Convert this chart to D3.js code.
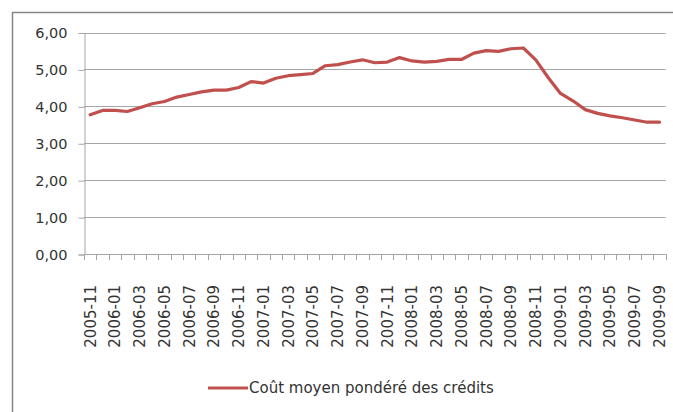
<!DOCTYPE html>
<html>
<head>
<meta charset="utf-8">
<script src="https://cdn.jsdelivr.net/npm/d3@7"></script>
<style>
  html, body { margin: 0; padding: 0; background: #fff; }
  svg { display: block; }
  text { font-family: "DejaVu Sans", Verdana, sans-serif; fill: #333; }
</style>
</head>
<body>
<svg id="chart" width="673" height="412"></svg>
<script>
const months = [
  "2005-11","2005-12",
  "2006-01","2006-02","2006-03","2006-04","2006-05","2006-06","2006-07","2006-08","2006-09","2006-10","2006-11","2006-12",
  "2007-01","2007-02","2007-03","2007-04","2007-05","2007-06","2007-07","2007-08","2007-09","2007-10","2007-11","2007-12",
  "2008-01","2008-02","2008-03","2008-04","2008-05","2008-06","2008-07","2008-08","2008-09","2008-10","2008-11","2008-12",
  "2009-01","2009-02","2009-03","2009-04","2009-05","2009-06","2009-07","2009-08","2009-09"
];
const coutMoyen = [
  3.77, 3.89,
  3.89, 3.86, 3.96, 4.07, 4.13, 4.25, 4.32, 4.39, 4.44, 4.44, 4.51, 4.67,
  4.63, 4.76, 4.83, 4.86, 4.89, 5.10, 5.13, 5.20, 5.26, 5.18, 5.20, 5.32,
  5.23, 5.20, 5.22, 5.27, 5.27, 5.44, 5.51, 5.49, 5.56, 5.58, 5.26, 4.78,
  4.35, 4.15, 3.91, 3.81, 3.74, 3.69, 3.63, 3.57, 3.57
];
const yTicks = [0, 1, 2, 3, 4, 5, 6];
const seriesName = "Coût moyen pondéré des crédits";
const lineColor = "#C0504D";

const svg = d3.select("#chart");
const mLeft = 84, mRight = 665.7, mTop = 32.5, mBottom = 254;

// outer frame (cropped on right/bottom)
svg.append("rect")
  .attr("x", 12.5).attr("y", 12.5)
  .attr("width", 720).attr("height", 430)
  .attr("fill", "none").attr("stroke", "#868686").attr("stroke-width", 1.5);

const x = d3.scaleBand().domain(months).range([mLeft, mRight]).paddingInner(0).paddingOuter(0);
const y = d3.scaleLinear().domain([0, 6]).range([mBottom, mTop]);

// gridlines
svg.append("g")
  .selectAll("line")
  .data(yTicks.filter(d => d > 0))
  .join("line")
  .attr("x1", mLeft).attr("x2", mRight)
  .attr("y1", d => Math.round(y(d)) + 0.5).attr("y2", d => Math.round(y(d)) + 0.5)
  .attr("stroke", "#A6A6A6").attr("stroke-width", 1);

// y axis
const yAxis = d3.axisLeft(y)
  .tickValues(yTicks)
  .tickSize(6)
  .tickPadding(11)
  .tickFormat(d => d3.format(".2f")(d).replace(".", ","));
const gy = svg.append("g").attr("transform", `translate(${mLeft + 0.5},0.5)`).call(yAxis);
gy.select(".domain").attr("stroke", "#A6A6A6");
gy.selectAll(".tick line").attr("stroke", "#A6A6A6");
gy.selectAll(".tick text").attr("font-size", 14.5).attr("fill", "#333")
  .attr("font-family", '"DejaVu Sans", Verdana, sans-serif');

// x axis line + ticks at category boundaries
const gx = svg.append("g");
gx.append("line")
  .attr("x1", mLeft).attr("x2", mRight)
  .attr("y1", mBottom + 0.5).attr("y2", mBottom + 0.5)
  .attr("stroke", "#A6A6A6");
const boundaries = months.map(m => x(m)).concat([mRight]);
gx.selectAll("line.tk")
  .data(boundaries)
  .join("line")
  .attr("class", "tk")
  .attr("x1", d => Math.round(d) + 0.5).attr("x2", d => Math.round(d) + 0.5)
  .attr("y1", mBottom).attr("y2", mBottom + 6)
  .attr("stroke", "#A6A6A6");

// x labels every 2 months, rotated
const labelMonths = months.filter((m, i) => i % 2 === 0);
gx.selectAll("text")
  .data(labelMonths)
  .join("text")
  .attr("transform", d => `translate(${x(d) + x.bandwidth() / 2},285) rotate(-90)`)
  .attr("text-anchor", "end")
  .attr("dy", "0.36em")
  .attr("font-size", 15)
  .text(d => d);

// line
const line = d3.line()
  .x((d, i) => x(months[i]) + x.bandwidth() / 2)
  .y(d => y(d));
svg.append("path")
  .datum(coutMoyen)
  .attr("d", line)
  .attr("fill", "none")
  .attr("stroke", lineColor)
  .attr("stroke-width", 3.2)
  .attr("stroke-linejoin", "round")
  .attr("stroke-linecap", "round");

// legend
const lg = svg.append("g").attr("transform", "translate(208,388)");
lg.append("line")
  .attr("x1", 0).attr("x2", 40).attr("y1", 0).attr("y2", 0)
  .attr("stroke", lineColor).attr("stroke-width", 3.2);
lg.append("text")
  .attr("x", 41).attr("y", 0).attr("dy", "0.36em")
  .attr("font-size", 15)
  .text(seriesName);
</script>
</body>
</html>
